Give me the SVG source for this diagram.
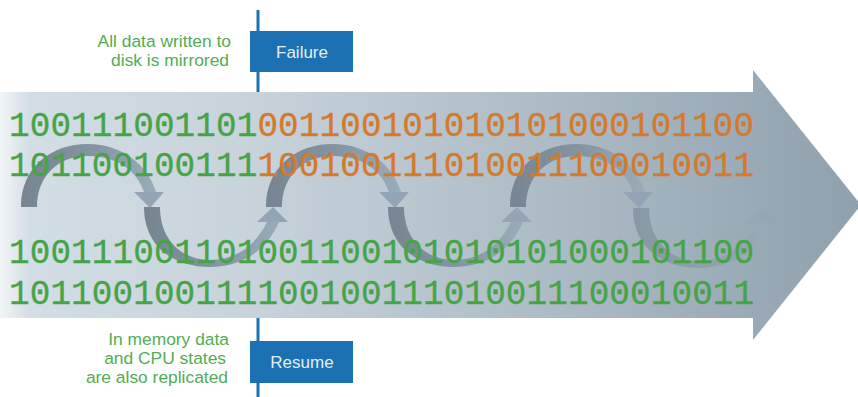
<svg xmlns="http://www.w3.org/2000/svg" xmlns:xlink="http://www.w3.org/1999/xlink" width="858" height="397" viewBox="0 0 858 397">
  <style>
    .bin { font-family: "Liberation Mono", "DejaVu Sans Mono", monospace; font-size: 34.3px; letter-spacing: 0.12px; stroke-width: 0.35; }
    .g { fill: #46a447; stroke: #46a447; }
    .o { fill: #d57a2b; stroke: #d57a2b; }
    .lbl { font-family: "Liberation Sans", Arial, sans-serif; font-size: 17.4px; fill: #52ad55; text-anchor: end; }
    .box { fill: #1b71b1; }
    .boxtxt { font-family: "Liberation Sans", Arial, sans-serif; font-size: 17px; fill: #e3edf6; text-anchor: middle; }
    .vline { stroke: #1b71b1; stroke-width: 3; }
    .loop { fill: url(#loopGrad); }
    .head { fill: #93a5b4; }
  </style>
  <defs>
    <linearGradient id="bgGrad" gradientUnits="userSpaceOnUse" x1="0" y1="0" x2="858" y2="0">
      <stop offset="0" stop-color="#f2f5f7"/>
      <stop offset="0.035" stop-color="#d3dde5"/>
      <stop offset="0.3" stop-color="#c7d2db"/>
      <stop offset="0.6" stop-color="#b0bec8"/>
      <stop offset="1" stop-color="#8fa1ae"/>
    </linearGradient>
    <linearGradient id="loopGrad" x1="0" y1="0" x2="1" y2="0">
      <stop offset="0" stop-color="#778592"/>
      <stop offset="0.55" stop-color="#8595a3"/>
      <stop offset="1" stop-color="#9aacba"/>
    </linearGradient>
    <g id="arch">
      <path class="loop" d="M21,207 C21,168 50,144 88,144 C122,144 148,165 156,192 L144,192 C137,170 116,156 88,156 C58,156 37,176 37,207 Z"/>
      <polygon class="head" points="134,192 164,192 150,208"/>
    </g>
    <g id="ucurve">
      <path class="loop" d="M144,207 C144,245 172,267 210,267 C244,267 268,248 279,222 L267,222 C257,243 238,260 210,260 C182,260 160,240 160,207 Z"/>
      <polygon class="head" points="257,222 288,222 273,207"/>
    </g>
  </defs>

  <g id="background-arrow">
    <polygon points="0,92 753,92 753,70 861,205 753,340 753,318 0,318" fill="url(#bgGrad)"/>
  </g>

  <g id="timeline-lines">
    <line class="vline" x1="258" y1="10" x2="258" y2="92"/>
    <line class="vline" x1="258" y1="318" x2="258" y2="397"/>
  </g>

  <g id="connectors">
    <use xlink:href="#arch"/>
    <use xlink:href="#ucurve"/>
    <use xlink:href="#arch" transform="translate(245,0)"/>
    <use xlink:href="#ucurve" transform="translate(244,0)"/>
    <use xlink:href="#arch" transform="translate(489,0)"/>
    <use xlink:href="#ucurve" transform="translate(489,1)" opacity="0.6"/>
  </g>

  <g id="binary-data">
    <text class="bin" x="9" y="136"><tspan class="g">100111001101</tspan><tspan class="o">001100101010101000101100</tspan></text>
    <text class="bin" x="9" y="176"><tspan class="g">101100100111</tspan><tspan class="o">100100111010011100010011</tspan></text>
    <text class="bin g" x="9" y="263">100111001101001100101010101000101100</text>
    <text class="bin g" x="9" y="304">101100100111100100111010011100010011</text>
  </g>

  <g id="failure">
    <rect class="box" x="250" y="31" width="103" height="41"/>
    <text class="boxtxt" x="302" y="58">Failure</text>
  </g>

  <g id="resume">
    <rect class="box" x="250" y="341" width="103" height="42"/>
    <text class="boxtxt" x="302" y="368">Resume</text>
  </g>

  <g id="label-disk">
    <text class="lbl" x="231" y="47">All data written to</text>
    <text class="lbl" x="229" y="66">disk is mirrored</text>
  </g>

  <g id="label-memory">
    <text class="lbl" x="229" y="345">In memory data</text>
    <text class="lbl" x="226" y="364">and CPU states</text>
    <text class="lbl" x="228" y="383">are also replicated</text>
  </g>
</svg>
